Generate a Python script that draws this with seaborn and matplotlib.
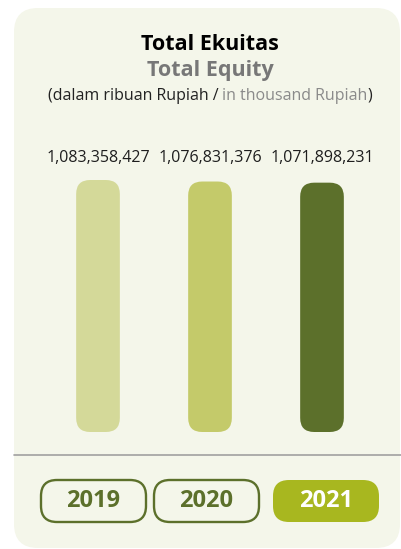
import matplotlib
matplotlib.use("Agg")
import matplotlib.pyplot as plt
import seaborn as sns
import pandas as pd
from matplotlib.patches import FancyBboxPatch

years = ["2019", "2020", "2021"]
equity = [1083358427, 1076831376, 1071898231]
bar_colors = ["#D4D999", "#C4CA6A", "#5C702B"]

W, H = 401, 549
sns.set_theme(style="white")
plt.rcParams["font.family"] = ["Open Sans", "DejaVu Sans"]


def fx(px):
    return px / W


def fy(py):
    return 1 - py / H


fig = plt.figure(figsize=(W / 100, H / 100), dpi=100)
fig.patch.set_facecolor("white")

# card background
card = FancyBboxPatch((fx(14), fy(548)), fx(400) - fx(14), fy(8) - fy(548),
                      boxstyle="round,pad=0,rounding_size=0.06",
                      mutation_aspect=W / H,
                      transform=fig.transFigure, facecolor="#F4F6EA",
                      edgecolor="none", zorder=-5)
fig.patches.append(card)

# titles
fig.text(fx(210), fy(45), "Total Ekuitas", ha="center", va="center",
         fontsize=15.5, fontweight="bold", color="black")
fig.text(fx(210), fy(70), "Total Equity", ha="center", va="center",
         fontsize=15.5, fontweight="bold", color="#777777")

# subtitle in two colours, centred as a whole
r = fig.canvas.get_renderer()
parts = [("(dalam ribuan Rupiah / ", "#222222"),
         ("in thousand Rupiah", "#8A8A8A"),
         (")", "#222222")]
texts = [fig.text(0, fy(96), s, ha="left", va="center", fontsize=11.5, color=c)
         for s, c in parts]
widths = [t.get_window_extent(r).width for t in texts]
x0 = 210 - sum(widths) / 2
for t, w in zip(texts, widths):
    t.set_x(fx(x0))
    x0 += w

# bar axes
ax_top, ax_bot = 140, 432
ax = fig.add_axes([fx(42), fy(ax_bot), fx(378) - fx(42), fy(ax_top) - fy(ax_bot)])
df = pd.DataFrame({"year": years, "equity": equity})
sns.barplot(data=df, x="year", y="equity", hue="year", palette=bar_colors,
            width=0.39, legend=False, ax=ax)
ymax = equity[0] * (ax_bot - ax_top) / (ax_bot - 180)
ax.set_xlim(-0.5, 2.5)
ax.set_ylim(0, ymax)
ax.axis("off")

# swap the square bars for rounded ones
x_per_px = 3 / (378 - 42)
y_per_px = ymax / (ax_bot - ax_top)
for bar, c in zip(list(ax.patches), bar_colors):
    x, y = bar.get_x(), bar.get_y()
    w, h = bar.get_width(), bar.get_height()
    bar.remove()
    rb = FancyBboxPatch((x, y), w, h,
                        boxstyle=f"round,pad=0,rounding_size={14 * x_per_px}",
                        mutation_aspect=y_per_px / x_per_px,
                        facecolor=c, edgecolor="none")
    ax.add_patch(rb)

for i, v in enumerate(equity):
    ax.text(i, 1 - (158 - ax_top) / (ax_bot - ax_top), f"{v:,}",
            transform=ax.get_xaxis_transform(), ha="center", va="center",
            fontsize=11.5, color="#1E1E1E")

# divider
fig.add_artist(plt.Line2D([fx(14), fx(401)], [fy(455), fy(455)],
                          color="#A0A0A0", lw=1.2, transform=fig.transFigure))

# year buttons
btn_x = [(41, 146), (154, 259), (273, 379)]
for i, (yr, (a, b)) in enumerate(zip(years, btn_x)):
    active = i == len(years) - 1
    pb = FancyBboxPatch((fx(a), fy(522)), fx(b) - fx(a), fy(480) - fy(522),
                        boxstyle=f"round,pad=0,rounding_size={fx(16)}",
                        mutation_aspect=W / H, transform=fig.transFigure,
                        facecolor="#A8B71F" if active else "none",
                        edgecolor="none" if active else "#5C702B",
                        lw=1.7)
    fig.patches.append(pb)
    fig.text(fx((a + b) / 2), fy(501), yr, ha="center", va="center",
             fontsize=17, fontweight="bold",
             color="white" if active else "#5C702B")

fig.savefig("out.png", dpi=100)
